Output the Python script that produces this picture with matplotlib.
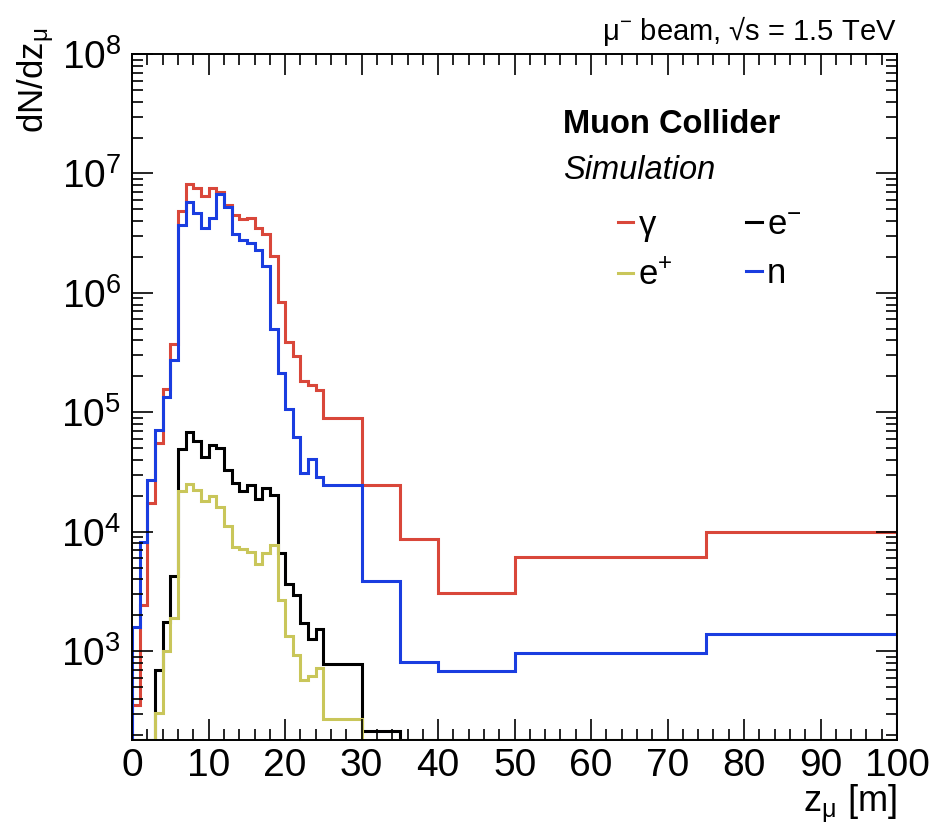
import numpy as np
import matplotlib
matplotlib.use('Agg')
import matplotlib.pyplot as plt
from matplotlib.ticker import MultipleLocator, LogLocator, FixedLocator, FixedFormatter, NullFormatter

plt.rcParams['font.family'] = ['Liberation Sans', 'DejaVu Sans']
plt.rcParams['mathtext.fontset'] = 'custom'
plt.rcParams['mathtext.rm'] = 'Liberation Sans'
plt.rcParams['mathtext.it'] = 'Liberation Sans:italic'
plt.rcParams['mathtext.bf'] = 'Liberation Sans:bold'
plt.rcParams['mathtext.default'] = 'regular'

# bin edges in z [m]
edges = [0, 1, 2, 3, 4, 5, 6, 7, 8, 9, 10, 11, 12, 13, 14, 15, 16, 17, 18,
         19, 20, 21, 22, 23, 24, 25, 30, 35, 40, 50, 75, 100]

# dN/dz per bin
gamma = [355, 2440, 1.74e4, 5.5e4, 1.57e5, 3.74e5, 4.9e6, 8.2e6, 7.55e6,
         6.45e6, 7.55e6, 7.0e6, 5.5e6, 4.5e6, 4.15e6, 4.25e6, 3.5e6, 3.1e6,
         2.05e6, 8.4e5, 3.9e5, 2.95e5, 1.82e5, 1.7e5, 1.55e5,
         9.0e4, 2.48e4, 8.7e3, 3.1e3, 6.2e3, 9.9e3]
neutron = [1.6e3, 8.3e3, 2.73e4, 7.1e4, 1.35e5, 2.77e5, 3.74e6, 5.8e6, 4.7e6,
           3.5e6, 4.27e6, 6.7e6, 5.2e6, 3.1e6, 2.75e6, 2.6e6, 2.3e6, 1.67e6,
           5.0e5, 2.14e5, 1.06e5, 6.2e4, 3.1e4, 4.07e4, 2.87e4,
           2.48e4, 3.9e3, 810, 684, 973, 1.39e3]
electron = [0, 0, 0, 697, 1.77e3, 4.3e3, 4.9e4, 6.8e4, 5.8e4,
            4.27e4, 5.36e4, 5.0e4, 3.27e4, 2.56e4, 2.22e4, 2.46e4, 1.88e4, 2.35e4,
            2.04e4, 6.6e3, 3.66e3, 2.96e3, 1.72e3, 1.28e3, 1.53e3,
            783, 216, 0, 0, 0, 0]
positron = [0, 0, 0, 302, 1.01e3, 1.89e3, 2.18e4, 2.52e4, 2.25e4,
            1.8e4, 1.98e4, 1.61e4, 1.11e4, 7.5e3, 7.2e3, 6.8e3, 5.4e3, 6.6e3,
            7.8e3, 2.69e3, 1.34e3, 931, 575, 625, 720,
            274, 0, 0, 0, 0, 0]

ymin, ymax = 181, 1e8

fig = plt.figure(figsize=(9.31, 8.25), dpi=100)
ax = fig.add_axes([0.142, 0.103, 0.8215, 0.8315])

series = [(gamma, '#d9473a', r'$\gamma$'),
          (electron, 'black', 'e$^{-}$'),
          (positron, '#c9c65a', 'e$^{+}$'),
          (neutron, '#1a3de0', 'n')]
handles = {}
for vals, col, lab in series:
    v = np.clip(np.array(vals, dtype=float), ymin, None)
    ax.stairs(v, edges, baseline=ymin, color=col, lw=2.2)
    handles[lab] = plt.Line2D([], [], color=col, lw=2.2)

ax.set_yscale('log')
ax.set_xlim(0, 100)
ax.set_ylim(ymin, ymax)

ax.xaxis.set_major_locator(MultipleLocator(10))
ax.xaxis.set_minor_locator(MultipleLocator(2))
ax.yaxis.set_major_locator(FixedLocator([1e3, 1e4, 1e5, 1e6, 1e7, 1e8]))
ax.yaxis.set_major_formatter(FixedFormatter(['10$^{%d}$' % p for p in range(3, 9)]))
ax.yaxis.set_minor_locator(LogLocator(base=10, subs=np.arange(2, 10), numticks=20))
ax.yaxis.set_minor_formatter(NullFormatter())

ax.tick_params(which='both', direction='in', top=True, right=True, width=1.2,
               labelsize=28)
ax.tick_params(which='major', length=15)
ax.tick_params(which='minor', length=8)
ax.tick_params(axis='x', pad=6)
ax.tick_params(axis='y', pad=8)
for s in ax.spines.values():
    s.set_linewidth(1.4)

ax.set_xlabel(r'z$_{\mu}$ [m]', fontsize=26, loc='right', labelpad=-1)
fig.text(0.016, 0.966, r'dN/dz$_{\mu}$', fontsize=25, rotation=90,
         ha='left', va='top')
fig.text(0.963, 0.962, r'$\mu^{-}$ beam, √s = 1.5 TeV', fontsize=21,
         ha='right', va='center')

ax.text(0.563, 0.897, 'Muon Collider', transform=ax.transAxes, fontsize=23.5,
        fontweight='bold', ha='left', va='center')
ax.text(0.563, 0.83, 'Simulation', transform=ax.transAxes, fontsize=23.5,
        fontstyle='italic', ha='left', va='center')

order = [r'$\gamma$', 'e$^{+}$', 'e$^{-}$', 'n']
ax.legend([handles[k] for k in order], order, ncol=2, frameon=False,
          fontsize=25, handlelength=0.45, handletextpad=0.15,
          columnspacing=2.1, labelspacing=0.45, borderpad=0,
          loc='upper left', bbox_to_anchor=(0.612, 0.8))

fig.savefig('out.png', dpi=100)
